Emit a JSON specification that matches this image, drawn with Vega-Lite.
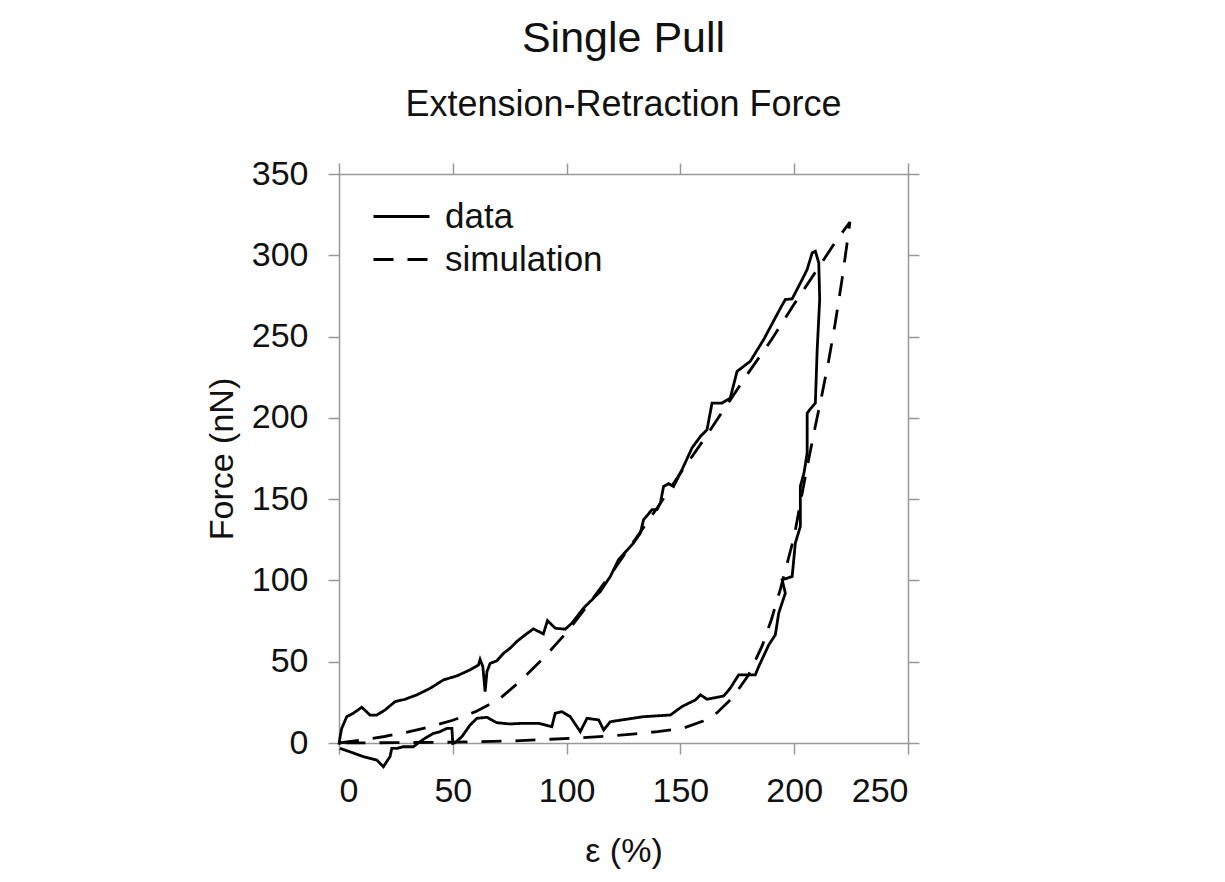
{
  "$schema": "https://vega.github.io/schema/vega-lite/v6.json",
  "width": 569,
  "height": 569,
  "autosize": "none",
  "padding": {"left": 339, "top": 174, "right": 317, "bottom": 139},
  "background": "white",
  "config": {
    "font": "Liberation Sans",
    "view": {"stroke": null},
    "axis": {
      "grid": false,
      "domainColor": "#999999",
      "domainWidth": 1.5,
      "tickColor": "#999999",
      "tickWidth": 1.5,
      "tickSize": 11,
      "labelFont": "Liberation Sans",
      "labelFontSize": 34,
      "labelColor": "#111111",
      "titleFont": "Liberation Sans",
      "titleFontSize": 34,
      "titleFontWeight": "normal",
      "titleColor": "#111111"
    }
  },
  "title": {
    "text": "Single Pull",
    "subtitle": "Extension-Retraction Force",
    "font": "Liberation Sans",
    "subtitleFont": "Liberation Sans",
    "fontSize": 43,
    "subtitleFontSize": 36,
    "fontWeight": "normal",
    "color": "#111111",
    "subtitleColor": "#111111",
    "anchor": "middle",
    "offset": 34,
    "subtitlePadding": 27
  },
  "data": {
    "values": [
      {"s": "data", "i": 1, "x": 0, "y": -1},
      {"s": "data", "i": 2, "x": 0.5, "y": 4},
      {"s": "data", "i": 3, "x": 1.2, "y": 9},
      {"s": "data", "i": 4, "x": 3.4, "y": 16.2},
      {"s": "data", "i": 5, "x": 6.3, "y": 18.3},
      {"s": "data", "i": 6, "x": 10, "y": 22},
      {"s": "data", "i": 7, "x": 13.6, "y": 17.2},
      {"s": "data", "i": 8, "x": 16.6, "y": 17.2},
      {"s": "data", "i": 9, "x": 20.2, "y": 20.3},
      {"s": "data", "i": 10, "x": 24.6, "y": 25.4},
      {"s": "data", "i": 11, "x": 29, "y": 26.9},
      {"s": "data", "i": 12, "x": 34.2, "y": 29.6},
      {"s": "data", "i": 13, "x": 40, "y": 33.6},
      {"s": "data", "i": 14, "x": 45.9, "y": 38.8},
      {"s": "data", "i": 15, "x": 51.8, "y": 41.3},
      {"s": "data", "i": 16, "x": 57.6, "y": 45},
      {"s": "data", "i": 17, "x": 61.3, "y": 48},
      {"s": "data", "i": 18, "x": 62, "y": 51.4},
      {"s": "data", "i": 19, "x": 63.2, "y": 47},
      {"s": "data", "i": 20, "x": 64.2, "y": 31.6},
      {"s": "data", "i": 21, "x": 65, "y": 43.9},
      {"s": "data", "i": 22, "x": 66.4, "y": 49},
      {"s": "data", "i": 23, "x": 69.3, "y": 50.5},
      {"s": "data", "i": 24, "x": 72.3, "y": 55.2},
      {"s": "data", "i": 25, "x": 75.2, "y": 58.3},
      {"s": "data", "i": 26, "x": 78.1, "y": 62.4},
      {"s": "data", "i": 27, "x": 81.8, "y": 66.5},
      {"s": "data", "i": 28, "x": 85.4, "y": 70.2},
      {"s": "data", "i": 29, "x": 89.8, "y": 67.1},
      {"s": "data", "i": 30, "x": 91.6, "y": 75.3},
      {"s": "data", "i": 31, "x": 95, "y": 70.6},
      {"s": "data", "i": 32, "x": 99.4, "y": 70},
      {"s": "data", "i": 33, "x": 102.3, "y": 73.7},
      {"s": "data", "i": 34, "x": 107.4, "y": 82.9},
      {"s": "data", "i": 35, "x": 114.8, "y": 93.2},
      {"s": "data", "i": 36, "x": 119.2, "y": 102.4},
      {"s": "data", "i": 37, "x": 122.8, "y": 112.7},
      {"s": "data", "i": 38, "x": 129.4, "y": 123},
      {"s": "data", "i": 39, "x": 132.4, "y": 129.1},
      {"s": "data", "i": 40, "x": 133.8, "y": 137.3},
      {"s": "data", "i": 41, "x": 137.5, "y": 143.5},
      {"s": "data", "i": 42, "x": 139.7, "y": 143.5},
      {"s": "data", "i": 43, "x": 141.2, "y": 147.6},
      {"s": "data", "i": 44, "x": 142.6, "y": 157.8},
      {"s": "data", "i": 45, "x": 144.8, "y": 159.5},
      {"s": "data", "i": 46, "x": 147, "y": 157.8},
      {"s": "data", "i": 47, "x": 150.7, "y": 168.1},
      {"s": "data", "i": 48, "x": 155.1, "y": 181.5},
      {"s": "data", "i": 49, "x": 158.8, "y": 188.6},
      {"s": "data", "i": 50, "x": 161.7, "y": 192.7},
      {"s": "data", "i": 51, "x": 163.9, "y": 209.1},
      {"s": "data", "i": 52, "x": 168.3, "y": 209.1},
      {"s": "data", "i": 53, "x": 171.9, "y": 212.2},
      {"s": "data", "i": 54, "x": 174.9, "y": 228.6},
      {"s": "data", "i": 55, "x": 180.7, "y": 234.8},
      {"s": "data", "i": 56, "x": 186.6, "y": 248.2},
      {"s": "data", "i": 57, "x": 194, "y": 267.6},
      {"s": "data", "i": 58, "x": 196.1, "y": 272.8},
      {"s": "data", "i": 59, "x": 199.1, "y": 273.2},
      {"s": "data", "i": 60, "x": 203.5, "y": 285.1},
      {"s": "data", "i": 61, "x": 205.7, "y": 291.3},
      {"s": "data", "i": 62, "x": 207.9, "y": 301.5},
      {"s": "data", "i": 63, "x": 209.3, "y": 302.5},
      {"s": "data", "i": 64, "x": 210.8, "y": 295.3},
      {"s": "data", "i": 65, "x": 211.2, "y": 272.8},
      {"s": "data", "i": 66, "x": 210.1, "y": 242},
      {"s": "data", "i": 67, "x": 209.3, "y": 209.2},
      {"s": "data", "i": 68, "x": 205.7, "y": 203},
      {"s": "data", "i": 69, "x": 205.7, "y": 178.4},
      {"s": "data", "i": 70, "x": 204.3, "y": 166.1},
      {"s": "data", "i": 71, "x": 202.7, "y": 157.9},
      {"s": "data", "i": 72, "x": 202.7, "y": 133.2},
      {"s": "data", "i": 73, "x": 200.5, "y": 123},
      {"s": "data", "i": 74, "x": 199.1, "y": 102.4},
      {"s": "data", "i": 75, "x": 194.7, "y": 100.4},
      {"s": "data", "i": 76, "x": 196.1, "y": 92.2},
      {"s": "data", "i": 77, "x": 193.2, "y": 79.9},
      {"s": "data", "i": 78, "x": 191.7, "y": 66.5},
      {"s": "data", "i": 79, "x": 188.8, "y": 60.3},
      {"s": "data", "i": 80, "x": 184.4, "y": 47},
      {"s": "data", "i": 81, "x": 182.9, "y": 41.9},
      {"s": "data", "i": 82, "x": 175.6, "y": 41.9},
      {"s": "data", "i": 83, "x": 171.9, "y": 33.7},
      {"s": "data", "i": 84, "x": 169, "y": 28.9},
      {"s": "data", "i": 85, "x": 161.7, "y": 26.9},
      {"s": "data", "i": 86, "x": 158.8, "y": 29.6},
      {"s": "data", "i": 87, "x": 156.6, "y": 26.5},
      {"s": "data", "i": 88, "x": 150.7, "y": 22.4},
      {"s": "data", "i": 89, "x": 145.6, "y": 17.2},
      {"s": "data", "i": 90, "x": 133.8, "y": 16.2},
      {"s": "data", "i": 91, "x": 119.2, "y": 13.1},
      {"s": "data", "i": 92, "x": 116.3, "y": 8},
      {"s": "data", "i": 93, "x": 114.1, "y": 14.2},
      {"s": "data", "i": 94, "x": 109, "y": 15.2},
      {"s": "data", "i": 95, "x": 106, "y": 7},
      {"s": "data", "i": 96, "x": 101.6, "y": 16.2},
      {"s": "data", "i": 97, "x": 97.9, "y": 19.3},
      {"s": "data", "i": 98, "x": 95, "y": 18.3},
      {"s": "data", "i": 99, "x": 93.5, "y": 10},
      {"s": "data", "i": 100, "x": 87.6, "y": 12.1},
      {"s": "data", "i": 101, "x": 80.3, "y": 12.1},
      {"s": "data", "i": 102, "x": 75.2, "y": 11.7},
      {"s": "data", "i": 103, "x": 69.3, "y": 12.5},
      {"s": "data", "i": 104, "x": 65, "y": 15.8},
      {"s": "data", "i": 105, "x": 60.6, "y": 15.2},
      {"s": "data", "i": 106, "x": 57.6, "y": 11.1},
      {"s": "data", "i": 107, "x": 54, "y": 3.9},
      {"s": "data", "i": 108, "x": 51, "y": 0.2},
      {"s": "data", "i": 109, "x": 50, "y": -0.2},
      {"s": "data", "i": 110, "x": 49.6, "y": 9},
      {"s": "data", "i": 111, "x": 47.4, "y": 9},
      {"s": "data", "i": 112, "x": 44.4, "y": 7},
      {"s": "data", "i": 113, "x": 41.5, "y": 5.9},
      {"s": "data", "i": 114, "x": 37.8, "y": 2.9},
      {"s": "data", "i": 115, "x": 35.6, "y": 0.8},
      {"s": "data", "i": 116, "x": 32.7, "y": -2.3},
      {"s": "data", "i": 117, "x": 28.3, "y": -2.3},
      {"s": "data", "i": 118, "x": 25.4, "y": -3.3},
      {"s": "data", "i": 119, "x": 23.2, "y": -3.3},
      {"s": "data", "i": 120, "x": 22.4, "y": -8.4},
      {"s": "data", "i": 121, "x": 19.5, "y": -14.6},
      {"s": "data", "i": 122, "x": 16.6, "y": -10.5},
      {"s": "data", "i": 123, "x": 10.7, "y": -8.4},
      {"s": "data", "i": 124, "x": 4.8, "y": -5.4},
      {"s": "data", "i": 125, "x": 0.4, "y": -3.3},
      {"s": "simulation", "i": 1, "x": 0, "y": 0},
      {"s": "simulation", "i": 2, "x": 10, "y": 1.8},
      {"s": "simulation", "i": 3, "x": 20, "y": 4},
      {"s": "simulation", "i": 4, "x": 30, "y": 6.7},
      {"s": "simulation", "i": 5, "x": 40, "y": 10},
      {"s": "simulation", "i": 6, "x": 50, "y": 14},
      {"s": "simulation", "i": 7, "x": 60, "y": 19.3},
      {"s": "simulation", "i": 8, "x": 70, "y": 26.5},
      {"s": "simulation", "i": 9, "x": 80, "y": 38.5},
      {"s": "simulation", "i": 10, "x": 90, "y": 52.5},
      {"s": "simulation", "i": 11, "x": 100, "y": 68},
      {"s": "simulation", "i": 12, "x": 110, "y": 86},
      {"s": "simulation", "i": 13, "x": 120, "y": 105},
      {"s": "simulation", "i": 14, "x": 130, "y": 125},
      {"s": "simulation", "i": 15, "x": 140, "y": 145},
      {"s": "simulation", "i": 16, "x": 150, "y": 166},
      {"s": "simulation", "i": 17, "x": 160, "y": 186},
      {"s": "simulation", "i": 18, "x": 170, "y": 207},
      {"s": "simulation", "i": 19, "x": 180, "y": 228},
      {"s": "simulation", "i": 20, "x": 190, "y": 248},
      {"s": "simulation", "i": 21, "x": 200, "y": 270},
      {"s": "simulation", "i": 22, "x": 210, "y": 291},
      {"s": "simulation", "i": 23, "x": 218, "y": 308},
      {"s": "simulation", "i": 24, "x": 224.5, "y": 320.5},
      {"s": "simulation", "i": 25, "x": 223, "y": 305},
      {"s": "simulation", "i": 26, "x": 221, "y": 285},
      {"s": "simulation", "i": 27, "x": 218, "y": 258},
      {"s": "simulation", "i": 28, "x": 215, "y": 234},
      {"s": "simulation", "i": 29, "x": 212, "y": 213},
      {"s": "simulation", "i": 30, "x": 209, "y": 193},
      {"s": "simulation", "i": 31, "x": 206, "y": 172},
      {"s": "simulation", "i": 32, "x": 203, "y": 150},
      {"s": "simulation", "i": 33, "x": 200, "y": 127},
      {"s": "simulation", "i": 34, "x": 197, "y": 111},
      {"s": "simulation", "i": 35, "x": 194, "y": 95},
      {"s": "simulation", "i": 36, "x": 190, "y": 76},
      {"s": "simulation", "i": 37, "x": 186, "y": 60},
      {"s": "simulation", "i": 38, "x": 180, "y": 42},
      {"s": "simulation", "i": 39, "x": 173, "y": 28},
      {"s": "simulation", "i": 40, "x": 166, "y": 18.5},
      {"s": "simulation", "i": 41, "x": 160, "y": 13.5},
      {"s": "simulation", "i": 42, "x": 151, "y": 9},
      {"s": "simulation", "i": 43, "x": 140, "y": 7},
      {"s": "simulation", "i": 44, "x": 129, "y": 5.5},
      {"s": "simulation", "i": 45, "x": 119, "y": 4.3},
      {"s": "simulation", "i": 46, "x": 107, "y": 3.3},
      {"s": "simulation", "i": 47, "x": 93, "y": 2.3},
      {"s": "simulation", "i": 48, "x": 75, "y": 1.2},
      {"s": "simulation", "i": 49, "x": 50, "y": 0.5},
      {"s": "simulation", "i": 50, "x": 25, "y": 0.2},
      {"s": "simulation", "i": 51, "x": 0, "y": 0}
    ]
  },
  "layer": [
    {
      "mark": {"type": "line", "color": "#000000", "strokeWidth": 2.8},
      "encoding": {
        "x": {
          "field": "x",
          "type": "quantitative",
          "scale": {"domain": [0, 250], "nice": false, "zero": false},
          "axis": {"values": [0, 50, 100, 150, 200, 250], "title": "ε (%)", "labelPadding": 20, "titlePadding": 26}
        },
        "y": {
          "field": "y",
          "type": "quantitative",
          "scale": {"domain": [0, 350], "nice": false, "zero": false},
          "axis": {"values": [0, 50, 100, 150, 200, 250, 300, 350], "title": "Force (nN)", "labelPadding": 20, "titlePadding": 12}
        },
        "strokeDash": {
          "field": "s",
          "type": "nominal",
          "scale": {"domain": ["data", "simulation"], "range": [[1, 0], [20, 14]]},
          "legend": {
            "title": null,
            "orient": "none",
            "legendX": 33,
            "legendY": 21,
            "padding": 0,
            "symbolType": "stroke",
            "symbolSize": 3136,
            "symbolStrokeWidth": 2.8,
            "symbolStrokeColor": "#000000",
            "labelFontSize": 35,
            "labelFont": "Liberation Sans",
            "labelColor": "#111111",
            "labelOffset": 14,
            "clipHeight": 43,
            "rowPadding": 0
          }
        },
        "order": {"field": "i", "type": "quantitative"}
      }
    },
    {
      "mark": {"type": "point", "opacity": 0},
      "encoding": {
        "x": {
          "field": "x",
          "type": "quantitative",
          "scale": {"domain": [0, 250], "nice": false, "zero": false},
          "axis": {"orient": "top", "values": [0, 50, 100, 150, 200, 250], "labels": false, "title": null}
        },
        "y": {
          "field": "y",
          "type": "quantitative",
          "scale": {"domain": [0, 350], "nice": false, "zero": false},
          "axis": {"orient": "right", "values": [0, 50, 100, 150, 200, 250, 300, 350], "labels": false, "title": null}
        }
      }
    }
  ],
  "resolve": {"axis": {"x": "independent", "y": "independent"}}
}
